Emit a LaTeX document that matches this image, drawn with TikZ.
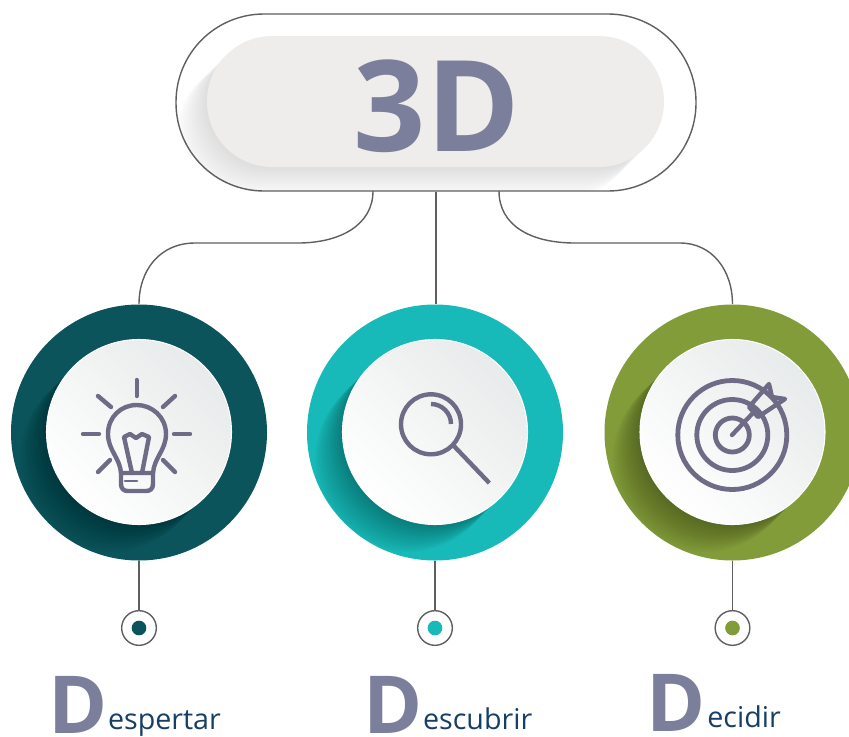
\documentclass[tikz,border=0pt]{standalone}
\usepackage{fontspec}
\setmainfont{Open Sans}
\usetikzlibrary{positioning}
\definecolor{tealdark}{HTML}{0B545C}
\definecolor{aquaring}{HTML}{17BAB8}
\definecolor{greenring}{HTML}{829C3A}
\definecolor{slatetext}{HTML}{7C7F9C}
\definecolor{navytext}{HTML}{173F63}
\definecolor{iconink}{HTML}{6F6B86}
\definecolor{wireink}{HTML}{5F5F5F}
\definecolor{pillgrey}{HTML}{EEEDEB}
\definecolor{platehi}{HTML}{E8EBEB}
\tikzset{
  wire/.style={draw=wireink,line width=1.05pt},
  ring/.style={circle,inner sep=0,minimum size=192pt},
  plate/.style={circle,inner sep=0,minimum size=138.75pt,draw=white,line width=0.8pt,left color=white,right color=platehi,shading angle=135},
  ink/.style={draw=iconink,line width=3.3pt,line cap=round,line join=round},
  stud/.style={circle,inner sep=0,minimum size=26pt,draw=wireink,line width=1.05pt,fill=white},
  dot/.style={circle,inner sep=0,minimum size=11pt},
  bigd/.style={inner sep=0,text=slatetext,font=\fontsize{60}{60}\selectfont\bfseries},
  word/.style={inner sep=0,text=navytext,font=\fontsize{21.5}{21.5}\selectfont,yshift=2.5pt}
}
\begin{document}
\begin{tikzpicture}[x=0.75pt,y=-0.75pt]
  \useasboundingbox (0,0) rectangle (849,736);

  % title pill
  \node[wire,fill=white,inner sep=0,minimum width=390pt,minimum height=132.75pt,rounded corners=66pt] (pillout) at (436,102.5) {};
  \begin{scope}
    \clip[rounded corners=66pt] (176.5,14.5) rectangle (695.5,190.5);
    \foreach \i in {1,...,16}
      \fill[black,opacity=0.008,rounded corners=49pt] (207-1.9*\i,36+1.9*\i) rectangle (664-1.9*\i,167+1.9*\i);
  \end{scope}
  \node[fill=pillgrey,inner sep=0,minimum width=342.75pt,minimum height=98.25pt,rounded corners=49pt] (pillin) at (435.5,101.5) {};
  \node[inner sep=0,text=slatetext,font=\fontsize{95}{95}\selectfont\bfseries,anchor=base] (title) at (437,151) {3D};

  \coordinate (tapa) at (373,191);
  \coordinate (tapc) at (499,191);

  % rings
  \foreach \nm/\cx/\col in {a/139/tealdark,b/435/aquaring,c/732.5/greenring}{
    \node[ring,fill=\col] (ring\nm) at (\cx,432.5) {};
    \begin{scope}
      \clip (\cx,432.5) circle[radius=127.5];
      \foreach \i in {1,...,14}
        \fill[black,opacity=0.025] (\cx-2*\i,432+2*\i) circle[radius=92];
    \end{scope}
    \node[plate] (plate\nm) at (\cx,432) {};
  }

  % studs
  \node[stud] (studa) at (139,628) {};
  \node[stud] (studb) at (435,628) {};
  \node[stud] (studc) at (732.5,628) {};
  \node[dot,fill=tealdark] (dota) at (139,628) {};
  \node[dot,fill=aquaring] (dotb) at (435,628) {};
  \node[dot,fill=greenring] (dotc) at (732.5,628) {};

  % connectors
  \draw[wire] (tapa) .. controls (373,225) and (340,243) .. (298,243) -- (195,243) .. controls (160,243) and (139,270) .. (ringa.north);
  \draw[wire] (pillout.south) -- (pillout.south |- ringb.north);
  \draw[wire] (tapc) .. controls (499,225) and (530,243) .. (575,243) -- (680,243) .. controls (712,243) and (732.5,270) .. (ringc.north);
  \draw[wire] (ringa.south) -- (studa.north);
  \draw[wire] (ringb.south) -- (studb.north);
  \draw[wire] (ringc.south) -- (studc.north);

  % bulb
  \draw[ink] (136.7,380) -- (136.7,396);
  \draw[ink] (83,434) -- (99,434);
  \draw[ink] (174,434) -- (190,434);
  \draw[ink] (98,396) -- (111,407);
  \draw[ink] (175,396) -- (163,407);
  \draw[ink] (110,460) -- (98,472);
  \draw[ink] (163,460) -- (175,472);
  \draw[ink] (121,473) .. controls (120,458) and (108,450) .. (108,434) .. controls (108,417) and (121,405) .. (136.7,405) .. controls (152,405) and (166,417) .. (166,434) .. controls (166,450) and (154,458) .. (153,473);
  \draw[ink] (121,473) -- (153,473) -- (153,484) .. controls (153,489) and (150,491) .. (146,491) -- (128,491) .. controls (124,491) and (121,489) .. (121,484) -- cycle;
  \draw[ink,line width=2.2pt] (125,481) -- (137,481);
  \draw[ink] (132,473) -- (124,437) -- (130,434) -- (136,438) -- (142,434) -- (149,437) -- (142,473);

  % magnifier
  \draw[ink,line cap=butt] (431,424.3) circle[radius=30];
  \draw[ink,line cap=butt] (431,404) .. controls (442,404) and (451,413) .. (451,424);
  \draw[ink,line cap=butt] (453,445) -- (489.3,483);

  % target
  \draw[ink,line width=3.6pt] (732.3,435) circle[radius=54.5];
  \draw[ink,line width=3.6pt] (732.3,435) circle[radius=35.5];
  \draw[ink,line width=3.6pt] (732.3,435) circle[radius=17];
  \draw[ink] (732,435) -- (752,414);
  \draw[ink] (749,407) -- (769,384) -- (772,397) -- (785,399) -- (758,417) -- cycle;

  % labels
  \node[bigd,anchor=base west] (da) at (48,733) {D};
  \node[word,base right=0pt of da] (wa) {espertar};
  \node[bigd,anchor=base west] (db) at (363,733) {D};
  \node[word,base right=0pt of db] (wb) {escubrir};
  \node[bigd,anchor=base west] (dc) at (646,731) {D};
  \node[word,base right=1pt of dc] (wc) {ecidir};
\end{tikzpicture}
\end{document}
